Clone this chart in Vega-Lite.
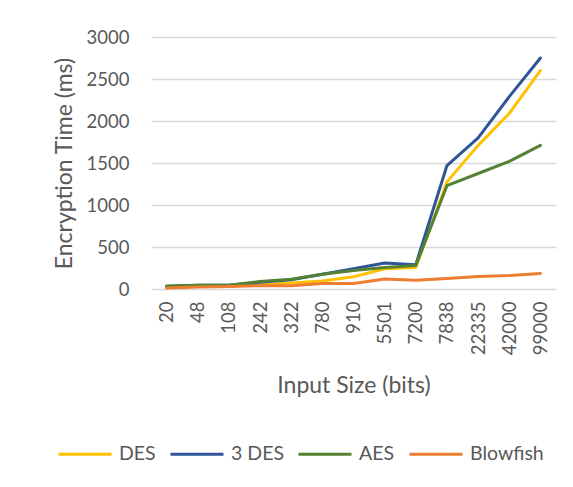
{
  "$schema": "https://vega.github.io/schema/vega-lite/v6.json",
  "width": 405,
  "height": 252,
  "autosize": {"type": "none"},
  "padding": {"left": 151, "top": 37, "right": 17, "bottom": 198},
  "background": "white",
  "config": {
    "font": "Lato",
    "view": {"stroke": null},
    "axis": {"labelColor": "#595959", "titleColor": "#595959", "labelFont": "Lato", "titleFont": "Lato", "titleFontWeight": "normal"},
    "legend": {"labelColor": "#595959", "labelFont": "Lato"}
  },
  "data": {
    "values": [
      {"size": "20", "algo": "DES", "time": 20},
      {"size": "48", "algo": "DES", "time": 30},
      {"size": "108", "algo": "DES", "time": 35},
      {"size": "242", "algo": "DES", "time": 50},
      {"size": "322", "algo": "DES", "time": 70},
      {"size": "780", "algo": "DES", "time": 95},
      {"size": "910", "algo": "DES", "time": 145},
      {"size": "5501", "algo": "DES", "time": 240},
      {"size": "7200", "algo": "DES", "time": 255},
      {"size": "7838", "algo": "DES", "time": 1275},
      {"size": "22335", "algo": "DES", "time": 1710},
      {"size": "42000", "algo": "DES", "time": 2090},
      {"size": "99000", "algo": "DES", "time": 2600},
      {"size": "20", "algo": "3 DES", "time": 30},
      {"size": "48", "algo": "3 DES", "time": 45},
      {"size": "108", "algo": "3 DES", "time": 45},
      {"size": "242", "algo": "3 DES", "time": 80},
      {"size": "322", "algo": "3 DES", "time": 110},
      {"size": "780", "algo": "3 DES", "time": 175},
      {"size": "910", "algo": "3 DES", "time": 240},
      {"size": "5501", "algo": "3 DES", "time": 310},
      {"size": "7200", "algo": "3 DES", "time": 290},
      {"size": "7838", "algo": "3 DES", "time": 1470},
      {"size": "22335", "algo": "3 DES", "time": 1800},
      {"size": "42000", "algo": "3 DES", "time": 2290},
      {"size": "99000", "algo": "3 DES", "time": 2750},
      {"size": "20", "algo": "AES", "time": 35},
      {"size": "48", "algo": "AES", "time": 45},
      {"size": "108", "algo": "AES", "time": 45},
      {"size": "242", "algo": "AES", "time": 90},
      {"size": "322", "algo": "AES", "time": 115},
      {"size": "780", "algo": "AES", "time": 175},
      {"size": "910", "algo": "AES", "time": 220},
      {"size": "5501", "algo": "AES", "time": 255},
      {"size": "7200", "algo": "AES", "time": 280},
      {"size": "7838", "algo": "AES", "time": 1230},
      {"size": "22335", "algo": "AES", "time": 1375},
      {"size": "42000", "algo": "AES", "time": 1520},
      {"size": "99000", "algo": "AES", "time": 1710},
      {"size": "20", "algo": "Blowfish", "time": 12},
      {"size": "48", "algo": "Blowfish", "time": 25},
      {"size": "108", "algo": "Blowfish", "time": 30},
      {"size": "242", "algo": "Blowfish", "time": 40},
      {"size": "322", "algo": "Blowfish", "time": 40},
      {"size": "780", "algo": "Blowfish", "time": 65},
      {"size": "910", "algo": "Blowfish", "time": 65},
      {"size": "5501", "algo": "Blowfish", "time": 120},
      {"size": "7200", "algo": "Blowfish", "time": 105},
      {"size": "7838", "algo": "Blowfish", "time": 125},
      {"size": "22335", "algo": "Blowfish", "time": 150},
      {"size": "42000", "algo": "Blowfish", "time": 160},
      {"size": "99000", "algo": "Blowfish", "time": 185}
    ]
  },
  "mark": {"type": "line", "strokeWidth": 3, "strokeCap": "round", "strokeJoin": "round"},
  "encoding": {
    "x": {
      "field": "size",
      "type": "ordinal",
      "sort": null,
      "scale": {"paddingOuter": 0.5, "paddingInner": 0},
      "axis": {
        "title": "Input Size (bits)",
        "titleFontSize": 23,
        "titlePadding": 20,
        "labelFontSize": 18.5,
        "labelAngle": -90,
        "labelPadding": 12,
        "ticks": false,
        "domain": false,
        "grid": false
      }
    },
    "y": {
      "field": "time",
      "type": "quantitative",
      "scale": {"domain": [0, 3000], "nice": false},
      "axis": {
        "title": "Encryption Time (ms)",
        "titleFontSize": 23,
        "titlePadding": 10,
        "labelFontSize": 18.5,
        "labelPadding": 22,
        "format": "d",
        "values": [0, 500, 1000, 1500, 2000, 2500, 3000],
        "ticks": false,
        "domain": false,
        "grid": true,
        "gridColor": "#d9d9d9",
        "gridWidth": 1.3
      }
    },
    "color": {
      "field": "algo",
      "type": "nominal",
      "sort": ["DES", "3 DES", "AES", "Blowfish"],
      "scale": {"domain": ["DES", "3 DES", "AES", "Blowfish"], "range": ["#FFC000", "#2F5597", "#548235", "#ED7D31"]},
      "legend": {
        "title": null,
        "orient": "none",
        "direction": "horizontal",
        "legendX": -94,
        "legendY": 389,
        "symbolType": "stroke",
        "symbolSize": 2809,
        "symbolStrokeWidth": 3,
        "labelFontSize": 19.5,
        "labelOffset": 6,
        "columnPadding": 8
      }
    }
  }
}
